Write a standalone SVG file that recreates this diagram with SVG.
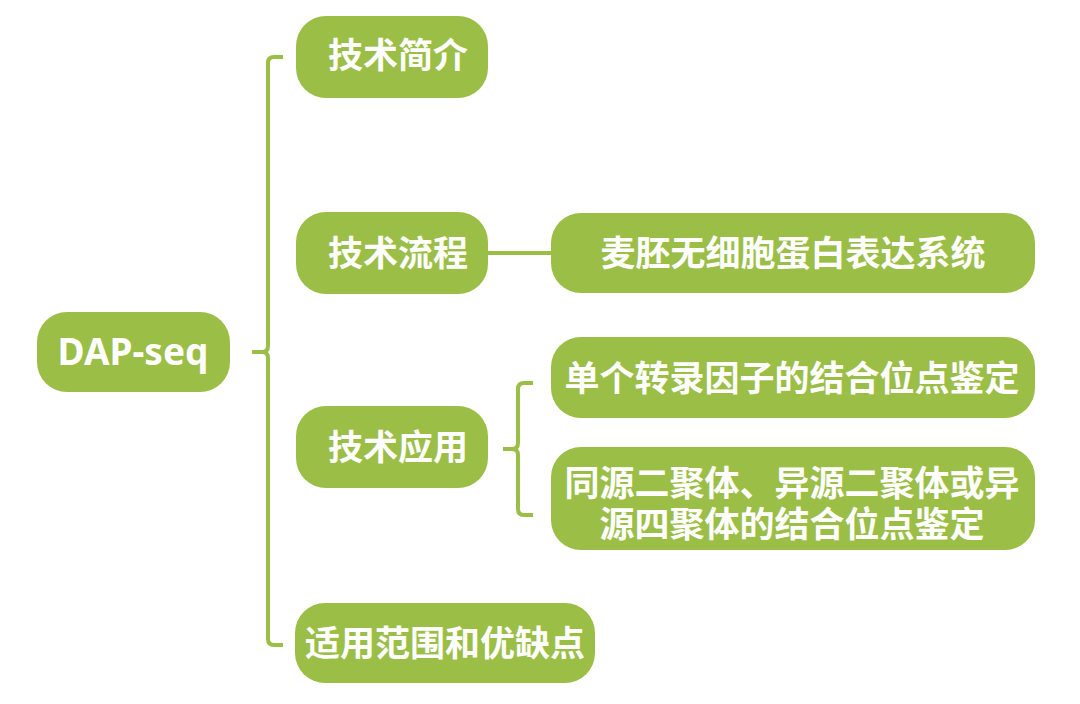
<svg xmlns="http://www.w3.org/2000/svg" width="1080" height="704" viewBox="0 0 1080 704">
<style>
.box{fill:#9bbe46}
.t{fill:#ffffff;font-family:"Noto Sans CJK SC","Noto Sans",sans-serif;font-weight:700;font-size:35px;text-anchor:middle}
.en{fill:#ffffff;font-family:"Noto Sans","Open Sans",sans-serif;font-weight:700;font-size:37px;text-anchor:middle}
.c{fill:none;stroke:#9bbe46;stroke-width:4;stroke-linecap:butt;stroke-linejoin:round}
</style>
<rect width="1080" height="704" fill="#ffffff"/>
<g id="connectors">
<path class="c" d="M283,57 H274 Q268,57 268,63 V346 Q268,352 262,352 H252 M262,352 Q268,352 268,358 V639 Q268,645 274,645 H283"/>
<path class="c" d="M488,253 H552"/>
<path class="c" d="M533,383 H524 Q518,383 518,389 V443 Q518,449 512,449 H503 M512,449 Q518,449 518,455 V509 Q518,515 524,515 H533"/>
</g>
<g id="node-dapseq">
<rect class="box" x="37" y="312" width="193" height="80" rx="30"/>
<text class="en" x="133" y="365">DAP-seq</text>
</g>
<g id="node-intro">
<rect class="box" x="296" y="16" width="192" height="82" rx="30"/>
<text class="t" x="398" y="68">技术简介</text>
</g>
<g id="node-process">
<rect class="box" x="296" y="212" width="192" height="82" rx="30"/>
<text class="t" x="398" y="266">技术流程</text>
</g>
<g id="node-app">
<rect class="box" x="296" y="406" width="192" height="82" rx="30"/>
<text class="t" x="398" y="460">技术应用</text>
</g>
<g id="node-scope">
<rect class="box" x="295" y="603" width="300" height="80" rx="30"/>
<text class="t" x="445" y="656">适用范围和优缺点</text>
</g>
<g id="node-wheat">
<rect class="box" x="551" y="213" width="484" height="80" rx="30"/>
<text class="t" x="793" y="266">麦胚无细胞蛋白表达系统</text>
</g>
<g id="node-single">
<rect class="box" x="551" y="337" width="484" height="81" rx="30"/>
<text class="t" x="792" y="391">单个转录因子的结合位点鉴定</text>
</g>
<g id="node-dimer">
<rect class="box" x="551" y="447" width="484" height="103" rx="30"/>
<text class="t"><tspan x="792" y="496">同源二聚体、异源二聚体或异</tspan><tspan x="792" y="537">源四聚体的结合位点鉴定</tspan></text>
</g>
</svg>
